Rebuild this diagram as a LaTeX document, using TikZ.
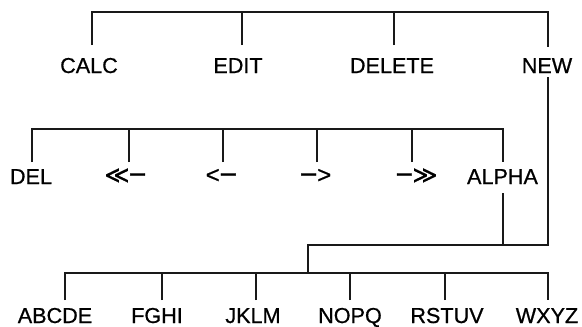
\documentclass[tikz,border=0pt]{standalone}
\usepackage{fontspec}
\usepackage{graphicx}
\setmainfont{Liberation Sans}
\newfontfamily\txtfont{Liberation Sans}[FakeBold=0.7]
\newfontfamily\symfont{DejaVu Sans}[FakeBold=0.6]
\newcommand{\longdash}{\raisebox{0.05em}{\scalebox{2.5}[1.15]{-}}}
\begin{document}
\begin{tikzpicture}[x=1pt,y=-1pt,
  lbl/.style={anchor=base,inner sep=0pt,font=\txtfont\fontsize{21.6}{26}\selectfont},
  arr/.style={anchor=base,inner sep=0pt,font=\txtfont\fontsize{24}{28}\selectfont},
  conn/.style={line width=2pt,black!90}]
\useasboundingbox (0,0) rectangle (582,327);
% level coordinates
\coordinate (barA) at (0,11.5);
\coordinate (barB) at (0,129);
\coordinate (barC) at (0,245);
\coordinate (barD) at (0,272.5);
% row 1
\node[lbl] (calc) at (89,73) {CALC};
\node[lbl] (edit) at (238,73) {EDIT};
\node[lbl] (delete) at (392,73) {DELETE};
\node[lbl] (new) at (547,73) {NEW};
% row 2
\node[lbl] (del) at (31,184) {DEL};
\node[arr] (ll) at (126,183) {{\symfont≪}\hspace{-0.08em}\longdash};
\node[arr] (l) at (222,183) {<\hspace{-0.06em}\longdash};
\node[arr] (r) at (315,183) {\longdash\hspace{-0.06em}>};
\node[arr] (rr) at (416,183) {\longdash\hspace{-0.08em}{\symfont≫}};
\node[lbl] (alpha) at (502.5,184) {ALPHA};
% row 3
\node[lbl] (abcde) at (55,323) {ABCDE};
\node[lbl] (fghi) at (157,323) {FGHI};
\node[lbl] (jklm) at (253,323) {JKLM};
\node[lbl] (nopq) at (350,323) {NOPQ};
\node[lbl] (rstuv) at (447,323) {RSTUV};
\node[lbl] (wxyz) at (547,323) {WXYZ};
% connector ends
\coordinate (calcT) at (92,45);
\coordinate (editT) at (242,45);
\coordinate (deleteT) at (394,45);
\coordinate (newT) at (548,47);
\coordinate (newB) at (548,77);
\coordinate (delT) at (31.7,162);
\coordinate (llT) at (129,162);
\coordinate (lT) at (223,162);
\coordinate (rT) at (317,162);
\coordinate (rrT) at (412,162);
\coordinate (alphaT) at (503,162);
\coordinate (alphaB) at (503,193);
\coordinate (join) at (308,245);
\coordinate (abcdeT) at (65,300);
\coordinate (fghiT) at (162,300);
\coordinate (jklmT) at (256,300);
\coordinate (nopqT) at (350,300);
\coordinate (rstuvT) at (445,300);
\coordinate (wxyzT) at (548,300);
% top level
\draw[conn] (calcT) |- (newT |- barA) -- (newT);
\draw[conn] (editT) -- (editT |- barA);
\draw[conn] (deleteT) -- (deleteT |- barA);
% second level
\draw[conn] (delT) |- (alphaT |- barB) -- (alphaT);
\draw[conn] (llT) -- (llT |- barB);
\draw[conn] (lT) -- (lT |- barB);
\draw[conn] (rT) -- (rT |- barB);
\draw[conn] (rrT) -- (rrT |- barB);
% joins
\draw[conn] (newB) -- (newB |- barC) -- (join) -- (join |- barD);
\draw[conn] (alphaB) -- (alphaB |- barC);
% third level
\draw[conn] (abcdeT) |- (wxyzT |- barD) -- (wxyzT);
\draw[conn] (fghiT) -- (fghiT |- barD);
\draw[conn] (jklmT) -- (jklmT |- barD);
\draw[conn] (nopqT) -- (nopqT |- barD);
\draw[conn] (rstuvT) -- (rstuvT |- barD);
\end{tikzpicture}
\end{document}
